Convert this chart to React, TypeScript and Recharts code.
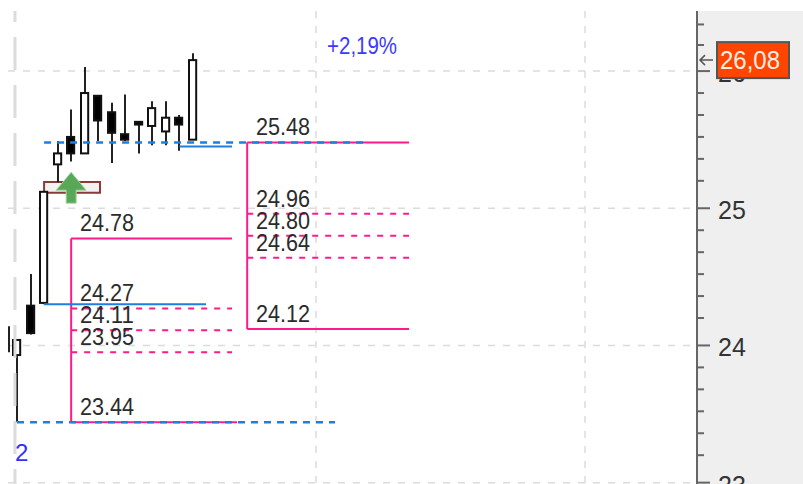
import { Bar, CartesianGrid, ComposedChart, ReferenceArea, ReferenceDot, ReferenceLine, XAxis, YAxis } from "recharts";

const slots = [-0.59, 0, 1, 2, 3, 4, 5, 6, 7, 8, 9, 10, 11, 12, 13];
const opens = [24.14, 23.93, 24.29, 24.31, 25.32, 25.52, 25.4, 25.82, 25.7, 25.54, 25.63, 25.6, 25.56, 25.66, 25.5];
const highs = [24.14, 24.04, 24.52, 25.12, 25.49, 25.72, 26.03, 25.82, 25.77, 25.83, 25.63, 25.78, 25.78, 25.68, 26.13];
const lows = [23.95, 23.44, 24.08, 24.3, 25.19, 25.34, 25.4, 25.49, 25.33, 25.49, 25.4, 25.46, 25.46, 25.42, 25.5];
const closes = [24.14, 24.04, 24.09, 25.12, 25.4, 25.4, 25.84, 25.64, 25.55, 25.5, 25.61, 25.73, 25.66, 25.61, 26.08];

const candles = slots.map((slot, i) => ({ slot, open: opens[i], high: highs[i], low: lows[i], close: closes[i] }));

const majorTicks = [26, 25, 24, 23];
const minorTicks = [26.34, 26.19, 25.84, 25.68, 25.52, 25.36, 25.2, 24.84, 24.68, 24.52, 24.36, 24.2, 23.84, 23.68, 23.52, 23.36, 23.2];
const lastPrice = 26.08;
const lastPriceLabel = "26,08";
const axisTicks = [...minorTicks, ...majorTicks, lastPrice];

const gridX = [22.08, 41.95];
const boldGridX = -0.15;

const pinkSolid = [
  { from: 4, to: 16.25, value: 23.44 },
  { from: 4, to: 15.88, value: 24.78 },
  { from: 17, to: 28.95, value: 25.48 },
  { from: 17, to: 28.95, value: 24.12 },
];
const pinkDashed = [
  { from: 4, to: 15.88, value: 24.27 },
  { from: 4, to: 15.88, value: 24.11 },
  { from: 4, to: 15.88, value: 23.95 },
  { from: 17, to: 28.95, value: 24.96 },
  { from: 17, to: 28.95, value: 24.8 },
  { from: 17, to: 28.95, value: 24.64 },
];
const pinkVertical = [
  { at: 4, top: 24.78, bottom: 23.44 },
  { at: 17, top: 25.48, bottom: 24.12 },
];
const blueSolid = [
  { from: 12, to: 15.88, value: 25.45 },
  { from: 2, to: 13.96, value: 24.3 },
];
const blueDashed = [
  { from: 2, to: 25.63, value: 25.48 },
  { from: 0, to: 23.49, value: 23.44 },
];
const levelLabels = [
  { at: 4.65, value: 24.78, text: "24.78" },
  { at: 4.65, value: 24.27, text: "24.27" },
  { at: 4.65, value: 24.11, text: "24.11" },
  { at: 4.65, value: 23.95, text: "23.95" },
  { at: 4.65, value: 23.44, text: "23.44" },
  { at: 17.65, value: 25.48, text: "25.48" },
  { at: 17.65, value: 24.96, text: "24.96" },
  { at: 17.65, value: 24.8, text: "24.80" },
  { at: 17.65, value: 24.64, text: "24.64" },
  { at: 17.65, value: 24.12, text: "24.12" },
];

const FONT = "'Liberation Sans', Arial, sans-serif";
const PINK = "#ff1a8c";
const BLUE = "#1e7fe0";

function Candle(props: any) {
  const { x, y, width, height, payload } = props;
  const unit = height / (payload.high - payload.low);
  const left = Math.round(x);
  const mid = left + Math.round(width / 2);
  const top = y + (payload.high - Math.max(payload.open, payload.close)) * unit;
  const bodyH = Math.abs(payload.open - payload.close) * unit;
  const up = payload.close > payload.open;
  return (
    <g>
      <line x1={mid} x2={mid} y1={y} y2={y + height} stroke="#222" strokeWidth={2} />
      {bodyH > 0 && (
        <rect x={left} y={top} width={width} height={bodyH} fill={up ? "#fff" : "#000"} stroke="#111" strokeWidth={2} />
      )}
    </g>
  );
}

function AxisTick(props: any) {
  const { x, y, payload } = props;
  const v = payload.value;
  if (v === lastPrice) {
    return (
      <g>
        <path d={`M${x + 16} ${y}H${x + 3}M${x + 8} ${y - 5}L${x + 3} ${y}L${x + 8} ${y + 5}`} stroke="#555" strokeWidth={1.5} fill="none" />
        <rect x={x + 20} y={y - 18} width={72} height={36} fill="#ff4500" stroke="#555" strokeWidth={2} />
        <text x={x + 23} y={y + 9} fill="#ffeee4" fontFamily={FONT} fontSize={25} textLength={60} lengthAdjust="spacingAndGlyphs">
          {lastPriceLabel}
        </text>
      </g>
    );
  }
  const major = majorTicks.includes(v);
  return (
    <g>
      <line x1={x} x2={x + (major ? 13 : 7)} y1={y} y2={y} stroke="#666" strokeWidth={2} />
      {major && (
        <text x={x + 21} y={y + 11} fill="#333" fontFamily={FONT} fontSize={25}>
          {v}
        </text>
      )}
    </g>
  );
}

function LevelLabel(props: any) {
  const { cx, cy, text } = props;
  return (
    <text x={cx} y={cy - 7} fill="#2b2b2b" fontFamily={FONT} fontSize={24} textLength={54} lengthAdjust="spacingAndGlyphs">
      {text}
    </text>
  );
}

function UpArrow(props: any) {
  const { cx, cy } = props;
  return (
    <path
      d={`M${cx} ${cy}L${cx + 15} ${cy + 18}H${cx + 5}V${cy + 31}H${cx - 5}V${cy + 18}H${cx - 15}Z`}
      fill="#58a858"
      stroke="#a5d6a5"
      strokeWidth={1}
    />
  );
}

export default function App() {
  return (
    <div style={{ position: "absolute", left: 0, top: 0, width: 803, height: 484, overflow: "hidden", background: "#fff" }}>
      <div style={{ position: "absolute", left: 697, top: 11, width: 106, height: 473, background: "#efefef" }} />
      <ComposedChart
        width={803}
        height={484}
        data={candles}
        margin={{ top: 11, right: 0, bottom: 0, left: 8 }}
        style={{ position: "absolute", left: 0, top: 0 }}
      >
        <CartesianGrid
          stroke="#dcdcdc"
          strokeWidth={1.5}
          strokeDasharray="7 8"
          horizontalValues={majorTicks}
          verticalValues={gridX}
        />
        <XAxis type="number" dataKey="slot" hide domain={[-0.665, 50.22]} allowDataOverflow />
        <YAxis
          orientation="right"
          width={106}
          domain={[22.99, 26.438]}
          allowDataOverflow
          ticks={axisTicks}
          interval={0}
          tickSize={0}
          tickMargin={0}
          tickLine={false}
          axisLine={{ stroke: "#666", strokeWidth: 2 }}
          tick={<AxisTick />}
        />
        <ReferenceLine x={boldGridX} stroke="#dcdcdc" strokeWidth={3} strokeDasharray="33 15" strokeDashoffset={18} />
        <ReferenceArea x1={2} x2={6.13} y1={25.192} y2={25.114} fill="#f2f2f2" fillOpacity={1} stroke="#8b3a3a" strokeWidth={2} />
        {pinkVertical.map((s, i) => (
          <ReferenceLine key={`pv${i}`} segment={[{ x: s.at, y: s.top }, { x: s.at, y: s.bottom }]} stroke={PINK} strokeWidth={2} />
        ))}
        {pinkSolid.map((s, i) => (
          <ReferenceLine key={`ps${i}`} segment={[{ x: s.from, y: s.value }, { x: s.to, y: s.value }]} stroke={PINK} strokeWidth={2} />
        ))}
        {pinkDashed.map((s, i) => (
          <ReferenceLine key={`pd${i}`} segment={[{ x: s.from, y: s.value }, { x: s.to, y: s.value }]} stroke={PINK} strokeWidth={2} strokeDasharray="6 7" />
        ))}
        {blueSolid.map((s, i) => (
          <ReferenceLine key={`bs${i}`} segment={[{ x: s.from, y: s.value }, { x: s.to, y: s.value }]} stroke={BLUE} strokeWidth={2} />
        ))}
        {blueDashed.map((s, i) => (
          <ReferenceLine key={`bd${i}`} segment={[{ x: s.from, y: s.value }, { x: s.to, y: s.value }]} stroke={BLUE} strokeWidth={2.5} strokeDasharray="7 6" />
        ))}
        <Bar dataKey={(d: any) => [d.low, d.high]} barSize={9} shape={<Candle />} isAnimationActive={false} />
        <ReferenceDot x={4} y={25.263} shape={<UpArrow />} />
        {levelLabels.map((l, i) => (
          <ReferenceDot key={`ll${i}`} x={l.at} y={l.value} shape={<LevelLabel text={l.text} />} />
        ))}
        <ReferenceDot
          x={22.9}
          y={26.125}
          shape={(p: any) => (
            <text x={p.cx} y={p.cy} fill="#3a3aff" fontFamily={FONT} fontSize={23} textLength={70} lengthAdjust="spacingAndGlyphs">
              +2,19%
            </text>
          )}
        />
        <ReferenceDot
          x={-0.15}
          y={23.22}
          shape={(p: any) => (
            <text x={p.cx} y={p.cy + 9} fill="#3030ff" fontFamily={FONT} fontSize={24}>
              2
            </text>
          )}
        />
      </ComposedChart>
    </div>
  );
}
